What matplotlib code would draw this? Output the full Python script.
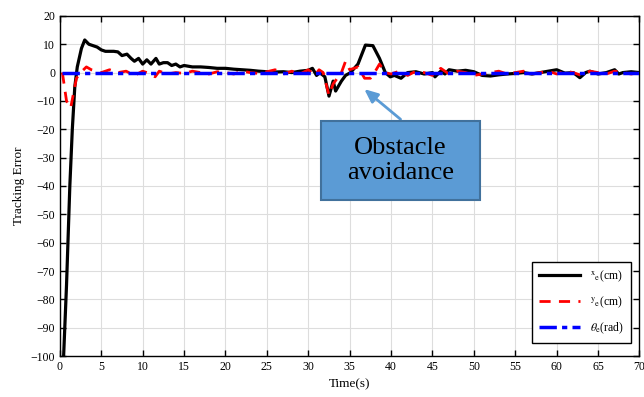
import matplotlib
matplotlib.use("Agg")
import matplotlib.pyplot as plt
from matplotlib.patches import Rectangle

plt.rcParams["font.family"] = ["Liberation Serif", "DejaVu Serif"]
plt.rcParams["mathtext.fontset"] = "stix"

# x_e (cm)
t_x = [0.45, 0.8, 1.2, 1.5, 1.8, 2.1, 2.6, 3.0, 3.5, 4.0, 4.5, 5.0, 5.5, 6.0, 6.5, 7.0,
       7.5, 8.1, 8.6, 9.0, 9.5, 10.0, 10.5, 11.0, 11.6, 12.0, 12.5, 13.0, 13.5, 14.0, 14.5,
       15.0, 16, 17, 18, 19, 20, 21, 22, 23, 24, 25, 26, 27, 28, 29, 30, 30.5, 31.0, 31.4,
       31.8, 32.0, 32.5, 33.0, 33.3, 34.0, 34.5, 35.1, 36.0, 36.9, 37.8, 38.6, 39.3, 39.9,
       40.4, 41.2, 42, 43, 44, 45, 45.3, 46, 46.5, 47, 48, 49, 50, 51, 52, 53, 54, 55,
       56, 57, 58, 59, 60, 61, 62, 62.8, 63.5, 64, 65, 66, 67, 67.5, 68, 69, 70]
x_e = [-100, -75, -40, -20, -5, 2, 8.5, 11.5, 10, 9.5, 9, 8, 7.5, 7.5, 7.5, 7.3,
       6, 6.5, 5, 4, 5, 3, 4.5, 3, 5, 3, 3.5, 3.5, 2.5, 3, 2,
       2.5, 2, 2, 1.8, 1.5, 1.5, 1.2, 1, 0.8, 0.5, 0.3, 0.2, 0.3, 0, 0.5, 0.8, 1.5, -1, 0,
       -1, -1.5, -8.3, -3, -6.5, -3, -1, 0, 3, 9.7, 9.5, 5, 0, -1.5,
       -1, -2, 0, 0.3, -0.5, 0, -1.5, 0.5, -0.5, 1, 0.5, 0.8, 0.3, -1, -1.2, -0.8, -0.5, -0.3,
       0, -0.5, 0, 0.5, 1, -0.2, 0, -1.8, 0, 0.5, -0.5, 0, 1, -0.5, 0, 0.3, 0]

# y_e (cm)
t_y = [0.3, 0.8, 1.3, 1.6, 2.0, 2.5, 3.2, 3.8, 4.5, 5.0, 6.0, 7.0, 8.0, 9.0, 10.0, 11.0,
       11.5, 12.0, 13.0, 14.0, 15, 16, 17, 18, 19, 20, 21, 22, 23, 24, 25, 26, 27, 28, 29,
       30, 30.8, 31.3, 31.8, 32.5, 33.0, 33.5, 34.0, 34.5, 35.0, 36.0, 36.8, 37.5, 38.0,
       38.6, 39.3, 40, 41, 42, 43, 44, 45, 46, 47, 48, 49, 50, 51, 52, 53, 54, 55, 56,
       57, 58, 59, 60, 61, 62, 63, 64, 65, 66, 67, 68, 69, 70]
y_e = [0, -10, -12.5, -8, -2, 0, 2, 1, 0.5, 0, 1, 0, 0.5, -1, 0.5, -0.5,
       -1.5, 0.5, -0.5, 0, -0.3, 0.5, 0, -0.5, 0.3, 0, -0.5, 0.5, 0, -0.3, 0.3, 1, -0.5, 0.5, -0.5,
       1, -1, 1, 0, -8, -4, -2, 0, 4, 1, 2, -2, -2, 0,
       3, 0, -0.5, 0.5, -1, 0.5, 0, -1, 1.5, -0.5, 0.5, 0, -1, -0.5, 0, 0.5, -0.5, 0, 0.5,
       -0.5, 0, 0.5, -0.5, 0.5, 0, -1, 0.5, 0, -0.5, 0.5, 0, -0.5, 0]

# theta_e (rad)
t_th = [0.3, 10, 20, 30, 40, 50, 60, 70]
th_e = [0, 0, 0, 0, 0, 0, 0, 0]

fig = plt.figure(figsize=(6.44, 3.97), dpi=100)
ax = fig.add_axes([0.093, 0.103, 0.9, 0.857])

ax.plot(t_x, x_e, color="black", lw=2.3, label=r"$^{\mathrm{x}}{}_{\mathrm{e}}$(cm)", zorder=3)
ax.plot(t_y, y_e, color="red", lw=2, ls=(0, (4, 3)), label=r"$^{\mathrm{y}}{}_{\mathrm{e}}$(cm)", zorder=4)
ax.plot(t_th, th_e, color="blue", lw=2.5, ls=(0, (5, 1.5, 1.5, 1.5)), label=r"$\theta_{\mathrm{e}}$(rad)", zorder=5)

ax.set_xlim(0, 70)
ax.set_ylim(-100, 20)
ax.set_xticks(range(0, 71, 5))
ax.set_yticks(range(-100, 21, 10))
ax.grid(True, color="#dddddd", lw=0.8)
ax.tick_params(direction="in", top=True, right=True, labelsize=8.5, length=4, width=1)
for s in ax.spines.values():
    s.set_linewidth(1)
ax.set_xlabel("Time(s)", fontsize=9.5)
ax.set_ylabel("Tracking Error", fontsize=9.5)

leg = ax.legend(loc="lower right", bbox_to_anchor=(0.995, 0.02), fontsize=8.5,
                fancybox=False, edgecolor="black", framealpha=1, handlelength=3.5,
                labelspacing=0.9, borderpad=0.6)
leg.get_frame().set_linewidth(1)
leg.set_zorder(10)

# annotation box and arrow
ax.add_patch(Rectangle((31.5, -44.8), 19.2, 27.7, facecolor="#5b9bd5", edgecolor="#41719c",
                       lw=1.5, zorder=8))
ax.text(41.1, -31, "Obstacle\navoidance", fontsize=19, ha="center", va="center",
        linespacing=1.2, zorder=9)
ax.annotate("", xy=(36.5, -5.2), xytext=(41.4, -17.1),
            arrowprops=dict(arrowstyle="-|>,head_width=0.35,head_length=0.8",
                            color="#5b9bd5", lw=2), zorder=7)

fig.savefig("out.png", dpi=100)
